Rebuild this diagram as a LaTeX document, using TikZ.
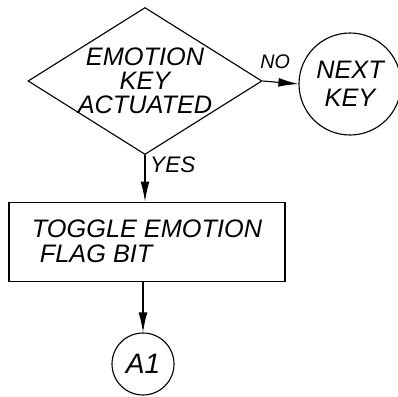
\documentclass[tikz,border=0pt]{standalone}
\usepackage{amssymb}
\usepackage{amsmath}
\usepackage{fontspec}
\setsansfont{Liberation Sans}
\usetikzlibrary{shapes.geometric,arrows.meta}

\begin{document}
\begin{tikzpicture}[line width=.8pt,
  hand/.style={font=\sffamily\itshape\fontsize{18}{17}\selectfont},
  flow/.style={-{Latex[length=.5cm,width=.22cm]}}]
\useasboundingbox (0,0) rectangle (9.95,-9.925);
\node[hand, draw, shape=diamond, aspect=1.6, inner sep=-1cm, minimum width=5.85cm, minimum height=3.675cm, align=center] (emokey) at (3.625,-2.025) {EMOTION\\KEY\\ACTUATED};
\node[hand, font=\sffamily\itshape\fontsize{18}{20}\selectfont, draw, circle, minimum size=2.55cm, inner sep=0pt, align=center] (nextkey) at (8.75,-2.1) {NEXT\\KEY};
\node[hand, font=\sffamily\itshape\fontsize{18}{18}\selectfont, draw, minimum width=6.9cm, minimum height=1.975cm, align=left] (toggle) at (3.675,-6.04) {TOGGLE EMOTION\\\hspace{.2cm}FLAG BIT};
\node[hand, font=\sffamily\itshape\fontsize{20}{20}\selectfont, draw, circle, minimum size=1.55cm, inner sep=0pt] (aone) at (3.575,-9.1) {A1};
\draw[flow] (emokey.east) -- (nextkey.west) node[pos=.35, above=6pt, font=\sffamily\itshape\fontsize{14}{14}\selectfont] (no) {NO};
\draw[flow] (emokey.south) -- (emokey.south |- toggle.north) node[pos=.2, right=0pt, font=\sffamily\itshape\fontsize{16}{16}\selectfont] (yes) {YES};
\draw[flow] (aone.north |- toggle.south) -- (aone.north);
\end{tikzpicture}
\end{document}
